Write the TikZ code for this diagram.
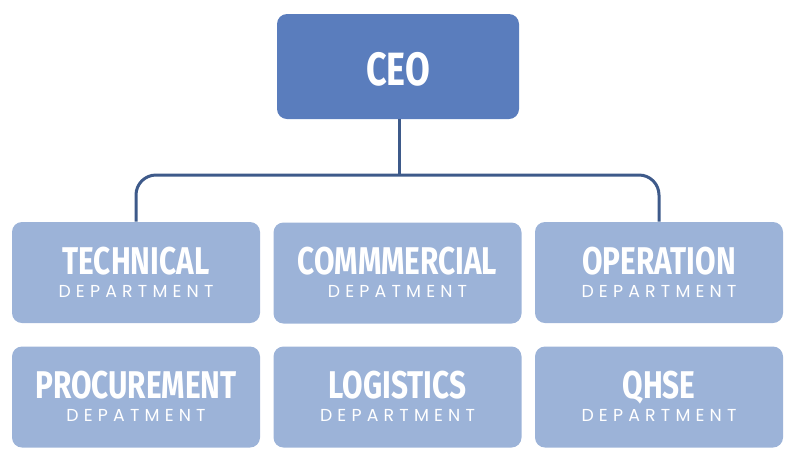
\documentclass[tikz,border=0pt]{standalone}
\usepackage{fontspec}
\usepackage{xcolor}
\usetikzlibrary{positioning,calc}
\newfontfamily\headfont[FakeStretch=0.77]{Fira Sans Bold}
\newfontfamily\subfont[LetterSpace=30]{Poppins}
\definecolor{ceoblue}{HTML}{5A7DBD}
\definecolor{deptblue}{HTML}{9CB3D8}
\definecolor{linkblue}{HTML}{3E5A8A}

\begin{document}
\begin{tikzpicture}[x=0.75pt, y=-0.75pt,
    deptbox/.style={fill=deptblue, rounded corners=7.5pt, minimum width=186pt, minimum height=75.75pt, inner sep=0pt},
    ceobox/.style={fill=ceoblue, rounded corners=7.5pt, minimum width=181.5pt, minimum height=78.75pt, inner sep=0pt},
    headtxt/.style={anchor=base, text=white, font=\headfont\fontsize{29}{30}\selectfont, inner sep=0pt},
    subtxt/.style={anchor=base, text=white, font=\subfont\fontsize{13}{14}\selectfont, inner sep=0pt},
    link/.style={draw=linkblue, line width=2.25pt}]
    \useasboundingbox (0,0) rectangle (800,469);

    \node[ceobox] (ceo) at (398,66.5) {};
    \node[headtxt, font=\headfont\fontsize{35}{36}\selectfont] (ceo-t) at ($(ceo.center)+(0,18.5)$) {CEO};

    \node[deptbox] (tech) at (136,272.5) {};
    \node[headtxt] (tech-t) at ($(tech.center)+(0,1.5)$) {TECHNICAL};
    \node[subtxt] (tech-s) at ($(tech.center)+(0,24.5)$) {DEPARTMENT};

    \node[deptbox] (comm) at (397.5,273) {};
    \node[headtxt] (comm-t) at ($(comm.center)+(0,1.5)$) {COMMMERCIAL};
    \node[subtxt] (comm-s) at ($(comm.center)+(0,24.5)$) {DEPATMENT};

    \node[deptbox] (oper) at (659,272.5) {};
    \node[headtxt] (oper-t) at ($(oper.center)+(0,1.5)$) {OPERATION};
    \node[subtxt] (oper-s) at ($(oper.center)+(0,24.5)$) {DEPARTMENT};

    \node[deptbox] (proc) at (136,397) {};
    \node[headtxt] (proc-t) at ($(proc.center)+(0,1.5)$) {PROCUREMENT};
    \node[subtxt] (proc-s) at ($(proc.center)+(0,24.5)$) {DEPATMENT};

    \node[deptbox] (logi) at (397.5,397) {};
    \node[headtxt] (logi-t) at ($(logi.center)+(0,1.5)$) {LOGISTICS};
    \node[subtxt] (logi-s) at ($(logi.center)+(0,24.5)$) {DEPARTMENT};

    \node[deptbox] (qhse) at (659,397) {};
    \node[headtxt] (qhse-t) at ($(qhse.center)+(0,1.5)$) {QHSE};
    \node[subtxt] (qhse-s) at ($(qhse.center)+(0,24.5)$) {DEPARTMENT};

    \coordinate (bus) at (399,175);
    \draw[link] (ceo.south -| bus) -- (bus);
    \draw[link, rounded corners=15pt] (tech.north) |- (bus) -| (oper.north);
\end{tikzpicture}
\end{document}
